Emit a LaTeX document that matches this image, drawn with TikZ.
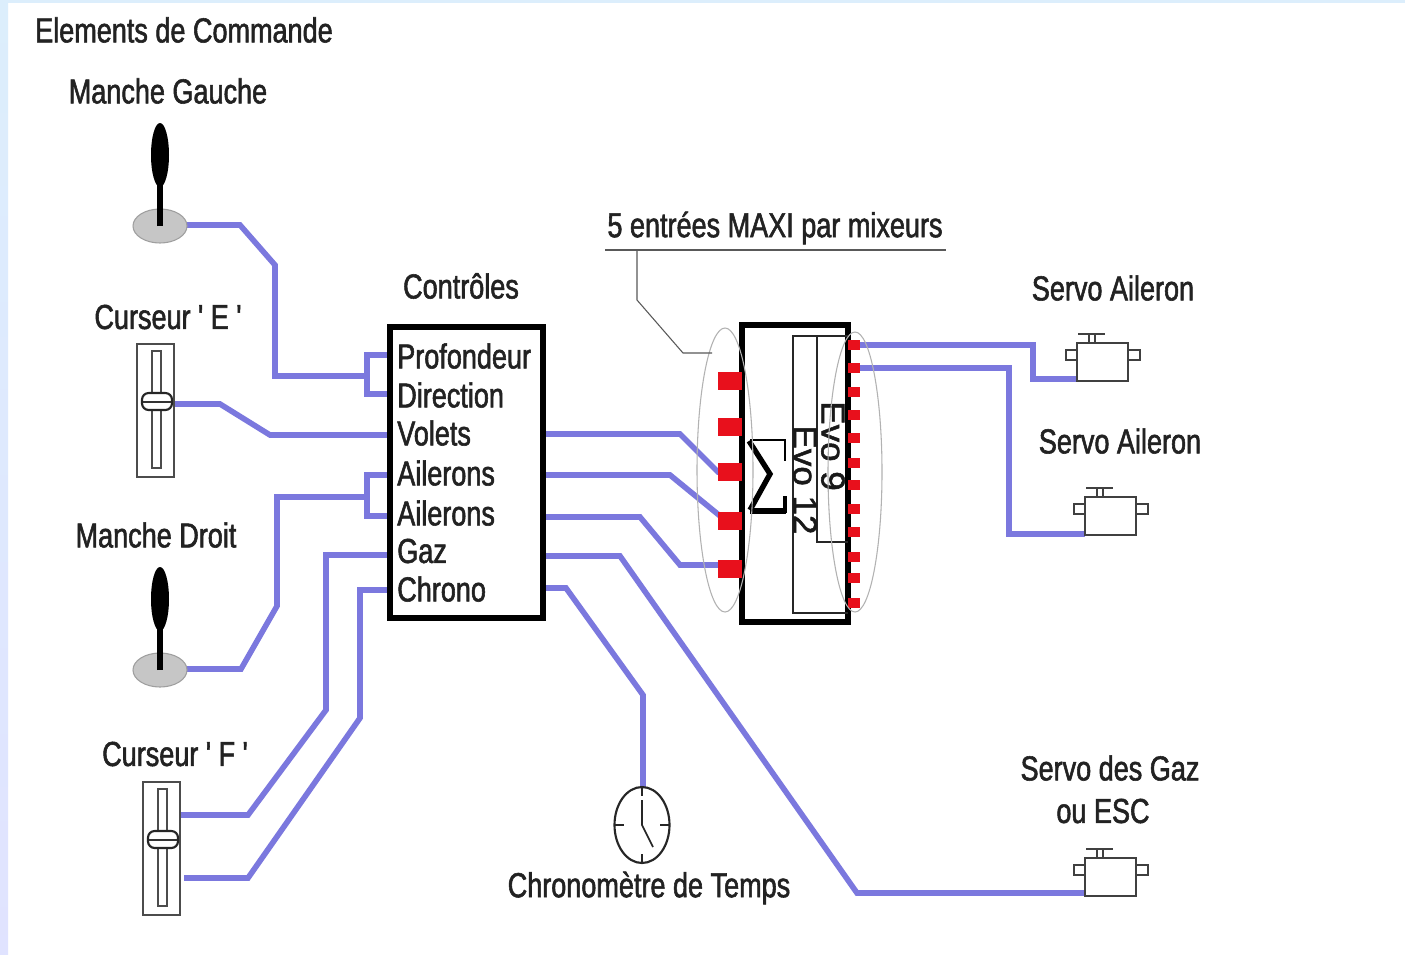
\documentclass[tikz,border=0pt]{standalone}
\usepackage{fontspec}
\setmainfont[FakeStretch=0.78,FakeBold=1.6,Ligatures=TeXOff]{Liberation Sans}
\newcommand{\lab}{\fontsize{26pt}{28pt}\selectfont}
\begin{document}
\begin{tikzpicture}[x=0.75pt,y=-0.75pt,
  wire/.style={draw=wirecol,line width=4.2pt,line join=miter},
  txt/.style={inner sep=0pt,anchor=center,text=txtcol,font=\lab},
  ctl/.style={inner sep=0pt,anchor=west,text=txtcol,font=\lab},
  port/.style={fill=redcol,draw=none,inner sep=0pt,minimum width=18pt,minimum height=14pt},
  pin/.style={fill=redcol,draw=none,inner sep=0pt,minimum width=9pt,minimum height=8pt},
  thin line/.style={draw=black!85,line width=1.6pt},
  evolab/.style={inner sep=0pt,rotate=-90,text=black!90,font=\fontsize{25pt}{27pt}\selectfont\addfontfeature{FakeStretch=1.05}},
  leader/.style={draw=black!65,line width=0.8pt}]
\definecolor{wirecol}{HTML}{7B78DE}
\definecolor{txtcol}{HTML}{222222}
\definecolor{redcol}{HTML}{E8101C}
\definecolor{edgecol}{HTML}{DCEEFC}
\useasboundingbox (0,0) rectangle (1405,954);
\fill[white] (0,0) rectangle (1405,954);
\fill[edgecol] (0,0) rectangle (1405,3);
\shade[top color=edgecol,bottom color=edgecol!60!blue!25] (0,0) rectangle (8,954);

% wires
\coordinate (jgout) at (186,225);
\coordinate (ceout) at (172,404);
\coordinate (jdout) at (186,669);
\coordinate (cfa) at (180,815);
\coordinate (cfb) at (184,878);
\coordinate (cP) at (390,355);
\coordinate (cD) at (390,394);
\coordinate (cV) at (390,435);
\coordinate (cA) at (390,475);
\coordinate (cB) at (390,516);
\coordinate (cG) at (390,555);
\coordinate (cC) at (390,590);
\coordinate (oa) at (543,434);
\coordinate (ob) at (543,475);
\coordinate (oc) at (543,517);
\coordinate (og) at (543,556);
\coordinate (oh) at (543,588);
\coordinate (pa) at (730,472);
\coordinate (pb) at (730,520);
\coordinate (pc) at (730,565);
\coordinate (qa) at (855,345);
\coordinate (qb) at (855,368);
\coordinate (sa) at (1078,379);
\coordinate (sb) at (1085,534);
\coordinate (sc) at (1085,893);
\coordinate (clk) at (643,788);

\draw[wire] (jgout) -- (240,225) -- (275,265) -- (275,376) -- (367,376);
\draw[wire] (cP) -- (367,355) -- (367,394) -- (cD);
\draw[wire] (ceout) -- (220,404) -- (270,435) -- (cV);
\draw[wire] (jdout) -- (241,669) -- (277,606) -- (277,497) -- (367,497);
\draw[wire] (cA) -- (367,475) -- (367,516) -- (cB);
\draw[wire] (cfa) -- (248,815) -- (326,710) -- (326,555) -- (cG);
\draw[wire] (cfb) -- (248,878) -- (360,718) -- (360,590) -- (cC);
\draw[wire] (oa) -- (680,434) -- (718,472) -- (pa);
\draw[wire] (ob) -- (670,475) -- (725,520) -- (pb);
\draw[wire] (oc) -- (640,517) -- (680,565) -- (pc);
\draw[wire] (og) -- (620,556) -- (857,893) -- (sc);
\draw[wire] (oh) -- (566,588) -- (643,695) -- (clk);
\draw[wire] (qa) -- (1033,345) -- (1033,379) -- (sa);
\draw[wire] (qb) -- (1009,368) -- (1009,534) -- (sb);

% controls box
\draw[black,line width=3.8pt] (390,327) rectangle (543,618);
\node[ctl] (t1) at (397,356) {Profondeur};
\node[ctl] (t2) at (397,395) {Direction};
\node[ctl] (t3) at (397,433) {Volets};
\node[ctl] (t4) at (397,473) {Ailerons};
\node[ctl] (t5) at (397,513) {Ailerons};
\node[ctl] (t6) at (397,551) {Gaz};
\node[ctl] (t7) at (397,589) {Chrono};

% mixer
\draw[black,line width=3.8pt] (742,325) rectangle (848,622);
\draw[thin line] (848,336) -- (793,336) -- (793,613) -- (848,613);
\draw[thin line] (817,336) -- (817,542) -- (848,542);
\node[evolab] (e9) at (833,446) {Evo 9};
\node[evolab] (e12) at (805,480) {Evo 12};
% sigma
\draw[black,line width=1.4pt] (750,440) -- (785,440) -- (785,461);
\draw[black,line width=4pt,line join=miter] (749,441) -- (770,474) -- (750,510);
\draw[black,line width=5pt] (750,511) -- (786,511);
\draw[black,line width=3pt] (785,513) -- (785,496);
% red ports
\foreach \n/\y in {1/381,2/427,3/472,4/521,5/569} \node[port] (p\n) at (730,\y) {};
\foreach \n/\y in {1/345,2/368,3/392,4/415,5/438,6/463,7/485,8/509,9/532,10/557,11/578,12/603}
  \node[pin] (r\n) at (854,\y) {};
\draw[draw=gray!60,line width=0.8pt] (725,470) ellipse (28 and 142);
\draw[draw=gray!60,line width=0.8pt] (855,472) ellipse (27 and 140);
% leader
\node[txt] (maxi) at (775,228) {5 entrées MAXI par mixeurs};
\coordinate (la) at (605,250);
\coordinate (lb) at (946,250);
\coordinate (lc) at (637,250);
\coordinate (ld) at (712,353);
\draw[leader] (la) -- (lb);
\draw[leader] (lc) -- (637,300) -- (683,353) -- (ld);

% labels
\node[txt] (title) at (184,30) {Elements de Commande};
\node[txt] (mg) at (168,91) {Manche Gauche};
\node[txt] (cc) at (461,286) {Contrôles};
\node[txt] (ce) at (168,317) {Curseur ' E '};
\node[txt] (md) at (156,535) {Manche Droit};
\node[txt] (cf) at (175,754) {Curseur ' F '};
\node[txt] (s1) at (1113,288) {Servo Aileron};
\node[txt] (s2) at (1120,441) {Servo Aileron};
\node[txt] (s3) at (1110,768) {Servo des Gaz};
\node[txt] (s4) at (1103,811) {ou ESC};
\node[txt] (chr) at (649,888) {Chronomètre de Temps};

% joysticks
\foreach \yy in {0,444} {
  \fill[gray!45,draw=gray!75,line width=0.8pt] (160,226+\yy) ellipse (27 and 17);
  \draw[black,line width=4pt] (160,226+\yy) -- (160,175+\yy);
  \fill[black] (160,155+\yy) ellipse (9 and 32);
}
% sliders
\foreach \x/\y in {137/344,143/782} {
  \draw[black!70,line width=1.2pt,fill=white] (\x,\y) rectangle (\x+37,\y+133);
  \draw[black!70,line width=1.2pt] (\x+15,\y+7) rectangle (\x+24,\y+124);
  \draw[black!85,line width=1.6pt,fill=white,rounded corners=5pt] (\x+5,\y+49) rectangle (\x+35,\y+66);
  \draw[black!80,line width=1.2pt] (\x+6,\y+58) -- (\x+34,\y+58);
}
% servos
\foreach \x/\y in {1077/343,1085/497,1085/858} {
  \draw[black!75,line width=1.5pt,fill=white] (\x-11,\y+7) rectangle (\x,\y+17);
  \draw[black!75,line width=1.5pt,fill=white] (\x+51,\y+7) rectangle (\x+63,\y+17);
  \draw[black!75,line width=1.5pt,fill=white] (\x,\y) rectangle (\x+51,\y+38);
  \draw[black!75,line width=1.2pt] (\x+1,\y-9) -- (\x+28,\y-9);
  \draw[black!75,line width=1pt] (\x+12,\y-9) -- (\x+12,\y) (\x+18,\y-9) -- (\x+18,\y);
}
% clock
\draw[black!85,line width=1.6pt,fill=white] (642,825) ellipse (27.5 and 38);
\draw[black!85,line width=1.1pt] (642,787) -- (642,796) (642,854) -- (642,863)
  (615,825) -- (624,825) (660,825) -- (670,825);
\draw[black!85,line width=1.2pt] (642,800) -- (642,825) -- (653,847);
\end{tikzpicture}
\end{document}
